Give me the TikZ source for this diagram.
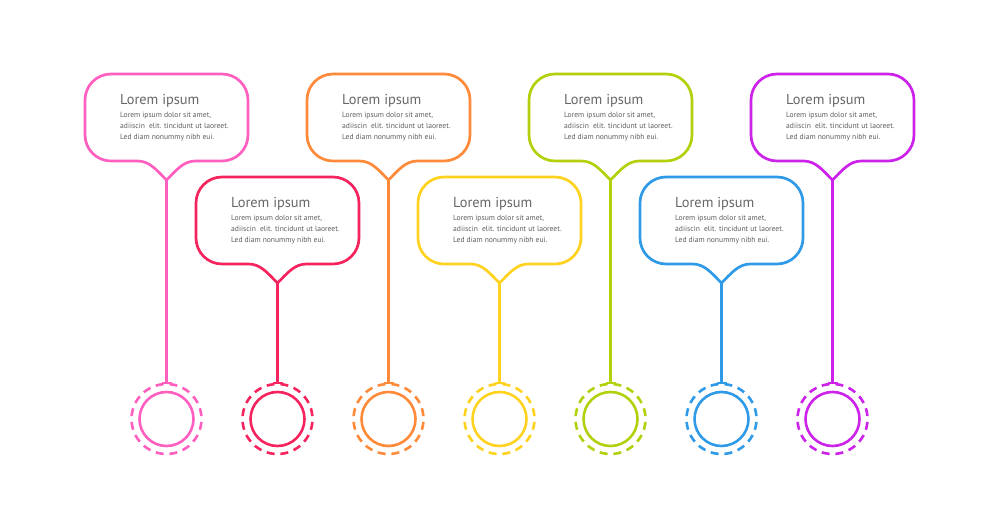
\documentclass[tikz,border=0pt]{standalone}
\usepackage{fontspec}
\setmainfont{PT Sans}
\definecolor{cpink}{HTML}{FF5FBE}
\definecolor{cred}{HTML}{F5245E}
\definecolor{corange}{HTML}{FF8A3A}
\definecolor{cyellow}{HTML}{FFD21F}
\definecolor{clime}{HTML}{B4D00C}
\definecolor{cblue}{HTML}{2F9BE8}
\definecolor{cpurple}{HTML}{CC22EA}
\definecolor{txt}{HTML}{666666}
\definecolor{btxt}{HTML}{5C5C5C}
\begin{document}
\begin{tikzpicture}[x=1pt,y=-1pt,
  bubble/.style={line width=2.7pt, line join=round},
  title/.style={anchor=base west, inner sep=0, text=txt, font=\fontsize{14.4}{15}\selectfont},
  body/.style={anchor=north west, inner sep=0, text=btxt, align=left, font=\fontsize{7.6}{11.4}\selectfont},
  innerc/.style={circle, draw, line width=2.6pt, minimum size=54pt, inner sep=0},
  outerc/.style={circle, draw, line width=2.6pt, minimum size=70pt, inner sep=0, outer sep=0, dash pattern=on 8pt off 5.74pt, dash phase=10.87pt},
  stem/.style={line width=2.5pt}
]
\useasboundingbox (0,0) rectangle (1000,510);
\foreach \i/\col/\row in {0/cpink/0,1/cred/1,2/corange/0,3/cyellow/1,4/clime/0,5/cblue/1,6/cpurple/0}{
  \pgfmathsetmacro\L{85+111*\i}
  \pgfmathsetmacro\cx{\L+81.5}
  \pgfmathsetmacro\T{74+103*\row}
  \pgfmathsetmacro\B{\T+87}
  \pgfmathsetmacro\R{\L+163}
  \draw[bubble,\col] (\cx,\B+19) .. controls (\cx+10,\B+9) and (\cx+17,\B) .. (\cx+29,\B)
    -- (\R-26,\B) arc (90:0:26) -- (\R,\T+26) arc (0:-90:26)
    -- (\L+26,\T) arc (-90:-180:26) -- (\L,\B-26) arc (180:90:26)
    -- (\cx-29,\B)
    .. controls (\cx-17,\B) and (\cx-10,\B+9) .. (\cx,\B+19);
  \coordinate (t\i) at (\cx,\B+19);
  \node[title] (h\i) at (\L+35,\T+31) {Lorem ipsum};
  \node[body] (b\i) at (\L+35,\T+37.5) {Lorem ipsum dolor sit amet,\\adiiscin\ \ elit. tincidunt ut laoreet.\\Led diam nonummy nibh eui.};
  \node[outerc,\col] (o\i) at (\cx,419) {};
  \node[innerc,\col] (c\i) at (\cx,419) {};
  \draw[stem,\col] (t\i) -- ([yshift=1]o\i.north) ++(-5,0) -- ++(10,0);
}
\end{tikzpicture}
\end{document}
